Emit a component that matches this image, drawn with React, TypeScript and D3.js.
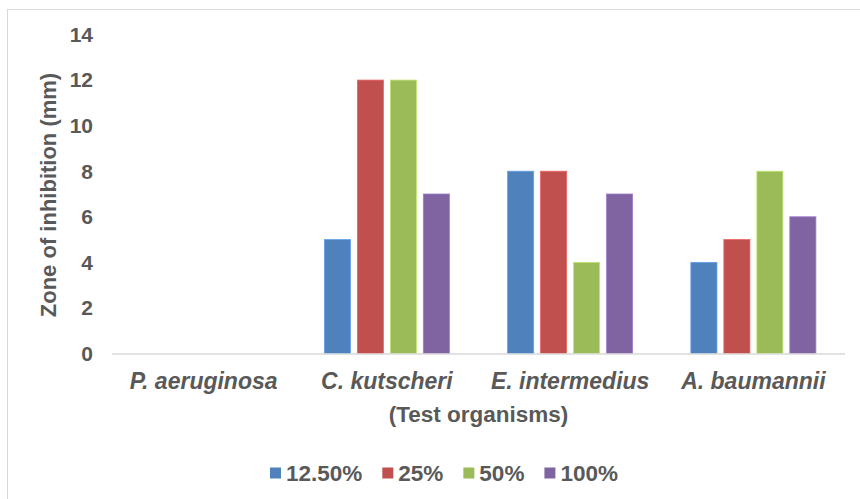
import React, { useEffect, useRef } from "react";
import * as d3 from "d3";

const categories = ["P. aeruginosa", "C. kutscheri", "E. intermedius", "A. baumannii"];
const seriesNames = ["12.50%", "25%", "50%", "100%"];
const seriesColors = ["#4F81BD", "#C0504D", "#9BBB59", "#8064A2"];
const values12_5 = [0, 5, 8, 4];
const values25 = [0, 12, 8, 5];
const values50 = [0, 12, 4, 8];
const values100 = [0, 7, 7, 6];
const yTicks = [0, 2, 4, 6, 8, 10, 12, 14];
const yTitle = "Zone of inhibition (mm)";
const xTitle = "(Test organisms)";

const W = 860;
const H = 499;
const TEXT = "#595959";
const FONT = "'Liberation Sans', Arial, sans-serif";

export default function App() {
  const ref = useRef<SVGSVGElement>(null);

  useEffect(() => {
    const svg = d3.select(ref.current);
    svg.selectAll("*").remove();

    const series = [values12_5, values25, values50, values100];
    const left = 112, right = 845, top = 34.5, bottom = 353.5;

    // chart border
    svg.append("rect")
      .attr("x", 7.5).attr("y", 9.5)
      .attr("width", W + 20).attr("height", H + 20)
      .attr("fill", "#fff").attr("stroke", "#D9D9D9").attr("stroke-width", 1);

    const x0 = d3.scaleBand<string>().domain(categories).range([left, right]).padding(0);
    const groupW = x0.bandwidth() * 0.72;
    const x1 = d3.scaleBand<string>().domain(seriesNames).range([0, groupW]).paddingInner(0.21).paddingOuter(0.105);
    const y = d3.scaleLinear().domain([0, 14]).range([bottom, top]);

    // bars
    const g = svg.append("g");
    categories.forEach((c, ci) => {
      const gx = (x0(c) as number) + (x0.bandwidth() - groupW) / 2;
      seriesNames.forEach((s, si) => {
        const v = series[si][ci];
        if (v <= 0) return;
        g.append("rect")
          .attr("x", gx + (x1(s) as number))
          .attr("y", y(v))
          .attr("width", x1.bandwidth())
          .attr("height", y(0) - y(v))
          .attr("fill", seriesColors[si])
          .attr("stroke", d3.color(seriesColors[si])!.brighter(0.6).formatHex())
          .attr("stroke-width", 0.8);
      });
    });

    // x axis line
    svg.append("line")
      .attr("x1", left).attr("x2", right)
      .attr("y1", y(0) + 0.5).attr("y2", y(0) + 0.5)
      .attr("stroke", "#D9D9D9").attr("stroke-width", 1.5);

    // y tick labels
    svg.append("g").selectAll("text").data(yTicks).join("text")
      .attr("x", 93).attr("y", (d) => y(d))
      .attr("dy", "0.35em")
      .attr("text-anchor", "end")
      .attr("font-family", FONT).attr("font-weight", "bold").attr("font-size", 21)
      .attr("fill", TEXT)
      .text((d) => String(d));

    // category labels
    svg.append("g").selectAll("text").data(categories).join("text")
      .attr("x", (d) => (x0(d) as number) + x0.bandwidth() / 2)
      .attr("y", 381)
      .attr("dy", "0.35em")
      .attr("text-anchor", "middle")
      .attr("font-family", FONT).attr("font-weight", "bold").attr("font-style", "italic").attr("font-size", 23)
      .attr("fill", TEXT)
      .text((d) => d);

    // x title
    svg.append("text")
      .attr("x", (left + right) / 2).attr("y", 414).attr("dy", "0.35em")
      .attr("text-anchor", "middle")
      .attr("font-family", FONT).attr("font-weight", "bold").attr("font-size", 22.5)
      .attr("fill", TEXT).text(xTitle);

    // y title
    svg.append("text")
      .attr("transform", `translate(48,195) rotate(-90)`)
      .attr("dy", "0.35em")
      .attr("text-anchor", "middle")
      .attr("font-family", FONT).attr("font-weight", "bold").attr("font-size", 22)
      .attr("fill", TEXT).text(yTitle);

    // legend
    const lg = svg.append("g");
    let cx = 270;
    const ly = 473;
    seriesNames.forEach((s, si) => {
      lg.append("rect").attr("x", cx).attr("y", ly - 5.5).attr("width", 11).attr("height", 11)
        .attr("fill", seriesColors[si]);
      const t = lg.append("text")
        .attr("x", cx + 16).attr("y", ly).attr("dy", "0.35em")
        .attr("font-family", FONT).attr("font-weight", "bold").attr("font-size", 22.5)
        .attr("fill", TEXT).text(s);
      const tw = (t.node() as SVGTextElement).getComputedTextLength();
      cx = cx + 16 + tw + 20;
    });
  }, []);

  return (
    <svg ref={ref} width={W} height={H}
      style={{ position: "absolute", left: 0, top: 0, background: "#fff" }} />
  );
}
